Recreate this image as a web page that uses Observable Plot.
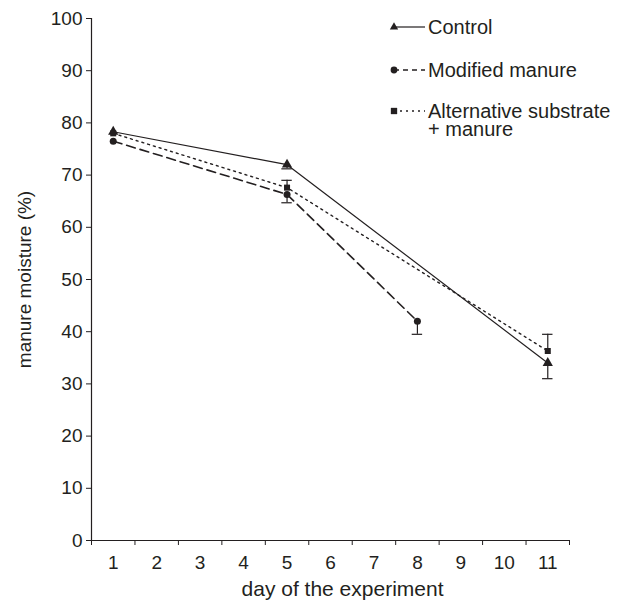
<!DOCTYPE html>
<html>
<head>
<meta charset="utf-8">
<script src="https://cdn.jsdelivr.net/npm/d3@7"></script>
<script src="https://cdn.jsdelivr.net/npm/@observablehq/plot@0.6"></script>
<style>
  body { margin: 0; background: #fff; }
  #chart { position: relative; width: 629px; height: 609px; }
</style>
</head>
<body>
<div id="chart"></div>
<script>
// ---- data ----
const dayTicks = [1, 2, 3, 4, 5, 6, 7, 8, 9, 10, 11];
const yTicks = [0, 10, 20, 30, 40, 50, 60, 70, 80, 90, 100];

const controlDays = [1, 5, 11];
const controlValues = [78.3, 72.0, 34.0];
const controlErrLow = [0, 0.8, 3.0];
const controlErrHigh = [0, 0, 0];

const modifiedDays = [1, 5, 8];
const modifiedValues = [76.5, 66.3, 42.0];
const modifiedErrLow = [0, 1.6, 2.5];
const modifiedErrHigh = [0, 0, 0];

const altDays = [1, 5, 11];
const altValues = [78.0, 67.6, 36.3];
const altErrLow = [0, 0, 0];
const altErrHigh = [0, 1.4, 3.2];

const seriesNames = ["Control", "Modified manure", "Alternative substrate\n+ manure"];

// ---- build tables ----
function table(days, vals, lo, hi, name) {
  return days.map((d, i) => ({day: d, value: vals[i], low: vals[i] - lo[i], high: vals[i] + hi[i], hasErr: lo[i] > 0 || hi[i] > 0, series: name}));
}
const control = table(controlDays, controlValues, controlErrLow, controlErrHigh, seriesNames[0]);
const modified = table(modifiedDays, modifiedValues, modifiedErrLow, modifiedErrHigh, seriesNames[1]);
const alt = table(altDays, altValues, altErrLow, altErrHigh, seriesNames[2]);
const allErr = [...control, ...modified, ...alt].filter(d => d.hasErr);

const ink = "#231f20";
const font = "Liberation Sans, Arial, sans-serif";
const capHalf = 0.12;

const plot = Plot.plot({
  width: 629,
  height: 609,
  marginLeft: 91,
  marginRight: 60,
  marginTop: 18,
  marginBottom: 69,
  style: {fontFamily: font, fontSize: "19px", color: ink, background: "#fff"},
  x: {domain: [0.5, 11.5]},
  y: {domain: [0, 100]},
  marks: [
    Plot.axisY({ticks: yTicks, tickSize: 5, tickPadding: 4, label: null, fontSize: 19, stroke: ink}),
    Plot.axisX({ticks: d3.range(0.5, 12, 1), tickSize: 5, tickFormat: () => "", label: null, stroke: ink}),
    Plot.axisX({ticks: dayTicks, tickSize: 0, tickPadding: 15, label: null, fontSize: 19}),
    Plot.ruleX([0.5], {y1: 0, y2: 100, stroke: ink, strokeWidth: 1.2}),
    Plot.ruleY([0], {x1: 0.5, x2: 11.5, stroke: ink, strokeWidth: 1.2}),
    // error bars
    Plot.ruleX(allErr, {x: "day", y1: "low", y2: "high", stroke: ink, strokeWidth: 1.2}),
    Plot.ruleY(allErr.filter(d => d.low < d.value), {y: "low", x1: d => d.day - capHalf, x2: d => d.day + capHalf, stroke: ink, strokeWidth: 1.2}),
    Plot.ruleY(allErr.filter(d => d.high > d.value), {y: "high", x1: d => d.day - capHalf, x2: d => d.day + capHalf, stroke: ink, strokeWidth: 1.2}),
    // lines
    Plot.line(control, {x: "day", y: "value", stroke: ink, strokeWidth: 1.2}),
    Plot.line(modified, {x: "day", y: "value", stroke: ink, strokeWidth: 1.6, strokeDasharray: "9,5"}),
    Plot.line(alt, {x: "day", y: "value", stroke: ink, strokeWidth: 1.4, strokeDasharray: "2,4"}),
    // markers
    Plot.dot(control, {x: "day", y: "value", symbol: "triangle", r: 3.8, fill: ink, stroke: "none"}),
    Plot.dot(modified, {x: "day", y: "value", symbol: "circle", r: 3.5, fill: ink, stroke: "none"}),
    Plot.dot(alt, {x: "day", y: "value", symbol: "square", r: 3.4, fill: ink, stroke: "none"}),
    // axis titles
    Plot.text(["day of the experiment"], {frameAnchor: "bottom", dx: 12, dy: 55, fontSize: 21, fill: ink, textAnchor: "middle"}),
    Plot.text(["manure moisture (%)"], {frameAnchor: "left", dx: -67, rotate: -90, fontSize: 19, fill: ink, textAnchor: "middle"})
  ]
});
document.getElementById("chart").appendChild(plot);

// ---- legend (inside plot area, top right) ----
const svg = d3.select(plot);
const legend = svg.append("g").attr("font-family", font).attr("font-size", 20).attr("fill", ink).attr("text-anchor", "start");
const legendRows = [
  {name: seriesNames[0], dash: null, sw: 1.2, symbol: d3.symbolTriangle, size: 30, y: 27},
  {name: seriesNames[1], dash: "5,4", sw: 1.6, symbol: d3.symbolCircle, size: 36, y: 70},
  {name: seriesNames[2], dash: "2,4", sw: 1.4, symbol: d3.symbolSquare, size: 40, y: 111}
];
legendRows.forEach(r => {
  legend.append("line").attr("x1", 394).attr("x2", 425).attr("y1", r.y).attr("y2", r.y)
    .attr("stroke", ink).attr("stroke-width", r.sw).attr("stroke-dasharray", r.dash);
  legend.append("path").attr("d", d3.symbol(r.symbol, r.size)()).attr("transform", `translate(394,${r.y})`).attr("fill", ink);
  const text = legend.append("text").attr("x", 428).attr("y", r.y);
  r.name.split("\n").forEach((t, i) => {
    text.append("tspan").attr("x", 428).attr("dy", i === 0 ? "0.35em" : "0.9em").text(t);
  });
});
</script>
</body>
</html>
